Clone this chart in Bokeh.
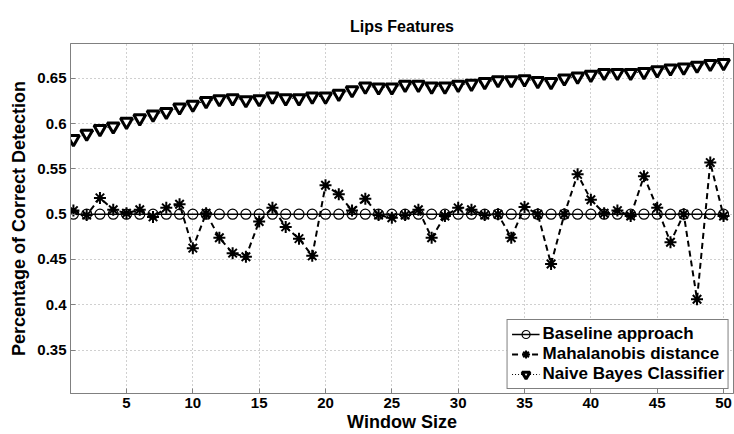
from bokeh.plotting import figure
from bokeh.models import FixedTicker, Range1d, Legend, LegendItem
from bokeh.embed import file_html
from bokeh.resources import INLINE

window = list(range(1, 51))
baseline = [0.5] * 50
mahalanobis = [0.504, 0.499, 0.518, 0.505, 0.501, 0.505, 0.497, 0.507, 0.511, 0.4625,
               0.501, 0.474, 0.457, 0.453, 0.492, 0.507, 0.486, 0.473, 0.454, 0.532,
               0.522, 0.504, 0.517, 0.499, 0.496, 0.499, 0.505, 0.474, 0.498, 0.507,
               0.505, 0.499, 0.500, 0.474, 0.508, 0.500, 0.445, 0.500, 0.544, 0.516,
               0.501, 0.504, 0.498, 0.542, 0.507, 0.469, 0.500, 0.406, 0.557, 0.498]
naive_bayes = [0.583, 0.589, 0.594, 0.597, 0.602, 0.606, 0.610, 0.613, 0.618, 0.621,
               0.625, 0.627, 0.628, 0.626, 0.627, 0.630, 0.628, 0.628, 0.630, 0.630,
               0.633, 0.637, 0.641, 0.640, 0.640, 0.643, 0.643, 0.641, 0.641, 0.643,
               0.644, 0.646, 0.648, 0.648, 0.649, 0.647, 0.646, 0.650, 0.652, 0.654,
               0.656, 0.656, 0.656, 0.657, 0.659, 0.661, 0.662, 0.664, 0.666, 0.667]
x_ticks = [5, 10, 15, 20, 25, 30, 35, 40, 45, 50]
y_ticks = [0.35, 0.4, 0.45, 0.5, 0.55, 0.6, 0.65]
y_tick_labels = ["0.35", "0.4", "0.45", "0.5", "0.55", "0.6", "0.65"]

FONT = "Liberation Sans"

p = figure(width=734, height=434, output_backend="svg", toolbar_location=None,
           x_range=Range1d(0.78, 50.75), y_range=Range1d(0.302, 0.6885),
           min_border_left=70, min_border_right=1, min_border_top=43, min_border_bottom=37)
p.title.text = "Lips Features"
p.title.align = "center"
p.title.text_font = FONT
p.title.text_font_size = "16px"
p.title.text_font_style = "bold"
p.title.text_color = "black"
p.title.standoff = 17
p.outline_line_color = "#808080"
p.outline_line_width = 1

for ax in (p.xaxis[0], p.yaxis[0]):
    ax.axis_label_text_font = FONT
    ax.axis_label_text_font_style = "bold"
    ax.axis_label_text_font_size = "18px"
    ax.major_label_text_font = FONT
    ax.major_label_text_font_style = "bold"
    ax.major_label_text_font_size = "15px"
    ax.major_tick_in = 5
    ax.major_tick_out = 0
    ax.minor_tick_line_color = None
    ax.axis_line_color = "#808080"
    ax.major_tick_line_color = "#808080"
    ax.major_label_text_color = "black"
    ax.axis_label_text_color = "black"

p.xaxis[0].ticker = FixedTicker(ticks=x_ticks)
p.yaxis[0].ticker = FixedTicker(ticks=y_ticks)
p.yaxis[0].major_label_overrides = {t: l for t, l in zip(y_ticks, y_tick_labels)}
p.xaxis[0].axis_label = "Window Size"
p.yaxis[0].axis_label = "Percentage of Correct Detection"
p.xaxis[0].axis_label_standoff = 1
p.yaxis[0].axis_label_standoff = 5
p.xaxis[0].major_label_standoff = 4
p.yaxis[0].major_label_standoff = 4

p.grid.grid_line_color = "#a0a0a0"
p.grid.grid_line_dash = "1 3"
p.grid.grid_line_width = 1

l1 = p.line(window, baseline, line_color="black", line_width=1.5)
s1 = p.scatter(window, baseline, marker="circle", size=10, line_color="black",
               fill_alpha=0, line_width=1.2)
l2 = p.line(window, mahalanobis, line_color="black", line_width=2, line_dash="6 4")
s2 = p.scatter(window, mahalanobis, marker="asterisk", size=12, line_color="black",
               line_width=2)
l3 = p.line(window, naive_bayes, line_color="black", line_width=1, line_dash="1 2")
s3 = p.scatter(window, naive_bayes, marker="inverted_triangle", size=12, line_color="black",
               fill_color="white", line_width=3)

legend = Legend(items=[
    LegendItem(label="Baseline approach", renderers=[l1, s1]),
    LegendItem(label="Mahalanobis distance", renderers=[l2, s2]),
    LegendItem(label="Naive Bayes Classifier", renderers=[l3, s3]),
], location="bottom_right")
legend.label_text_font = FONT
legend.label_text_font_style = "bold"
legend.label_text_font_size = "17px"
legend.label_text_color = "black"
legend.label_height = 20
legend.glyph_height = 20
legend.glyph_width = 28
legend.label_standoff = 3
legend.spacing = 0
legend.padding = 4
legend.margin = 4
legend.border_line_color = "black"
legend.border_line_width = 1
legend.background_fill_alpha = 1
p.add_layout(legend, "center")

open("out.html", "w").write(file_html(p, INLINE))
